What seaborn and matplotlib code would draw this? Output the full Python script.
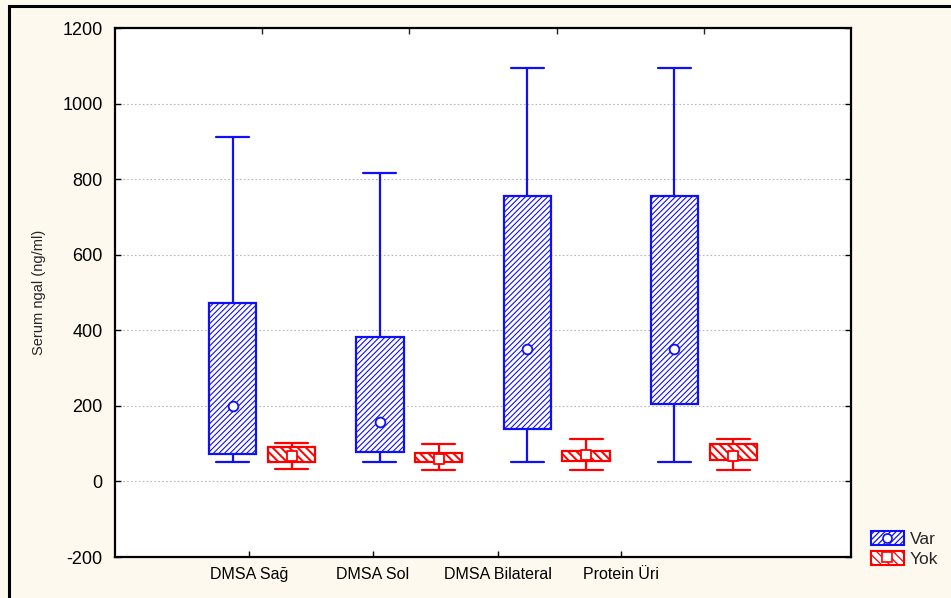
import numpy as np
import pandas as pd
import matplotlib
matplotlib.use("Agg")
import matplotlib.pyplot as plt
import seaborn as sns
from matplotlib.patches import Patch, Rectangle
from matplotlib.lines import Line2D

# values: min, q1, median, q3, max per group
categories = ["DMSA Sağ", "DMSA Sol", "DMSA Bilateral", "Protein Üri"]
groups = ["Var", "Yok"]

var_min = [51, 51, 51, 51]
var_q1 = [72, 79, 138, 205]
var_med = [200, 157, 350, 350]
var_q3 = [473, 382, 756, 756]
var_max = [911, 816, 1094, 1094]

yok_min = [32, 31, 31, 31]
yok_q1 = [52, 52, 55, 56]
yok_med = [68, 60, 69, 67]
yok_q3 = [90, 76, 81, 99]
yok_max = [102, 98, 111, 111]

y_ticks = [-200, 0, 200, 400, 600, 800, 1000, 1200]
label_pos = [-0.09, 0.75, 1.6, 2.44]

colors = {"Var": "#1010f8", "Yok": "#ff0000"}
hatches = {"Var": "//////", "Yok": "\\\\\\\\"}
hatch_lw = {"Var": 0.8, "Yok": 1.4}
markers = {"Var": "o", "Yok": "s"}

summary = {
    "Var": [var_min, var_q1, var_med, var_q3, var_max],
    "Yok": [yok_min, yok_q1, yok_med, yok_q3, yok_max],
}

rows = []
med_rows = []
for g in groups:
    stats = summary[g]
    for i, cat in enumerate(categories):
        for s in stats:
            rows.append({"cat": cat, "grp": g, "val": s[i]})
        med_rows.append({"cat": cat, "grp": g, "val": stats[2][i]})
df = pd.DataFrame(rows)
med = pd.DataFrame(med_rows)

sns.set_theme(style="white", font="Liberation Sans")
plt.rcParams["hatch.linewidth"] = 0.9
plt.rcParams["axes.unicode_minus"] = False


def style_hatch(p, g):
    p.set_hatch(hatches[g])
    p.set_edgecolor(colors[g])
    if hasattr(p, "set_hatch_linewidth"):
        p.set_hatch_linewidth(hatch_lw[g])


fig = plt.figure(figsize=(9.51, 5.98), dpi=100, facecolor="#fdf9ee")
ax = fig.add_axes([115 / 951, 1 - 557 / 598, 736 / 951, 529 / 598])
ax.set_facecolor("white")

white = {g: "white" for g in groups}
for g in groups:
    n_patches = len(ax.patches)
    n_lines = len(ax.lines)
    sns.boxplot(data=df[df.grp == g], x="cat", y="val", hue="grp",
                order=categories, hue_order=groups, palette=white,
                saturation=1, dodge=True, width=0.8, gap=0.2,
                whis=(0, 100), linecolor=colors[g], linewidth=1.6,
                medianprops={"visible": False}, legend=False, ax=ax)
    for p in ax.patches[n_patches:]:
        style_hatch(p, g)
        p.set_zorder(2)
    # widen the whisker caps a bit
    for ln in ax.lines[n_lines:]:
        xd, yd = np.asarray(ln.get_xdata(), float), np.asarray(ln.get_ydata(), float)
        if len(xd) == 2 and yd[0] == yd[1] and xd[0] != xd[1]:
            c = xd.mean()
            ln.set_xdata(c + (xd - c) * 1.4)

    sns.stripplot(data=med[med.grp == g], x="cat", y="val", hue="grp",
                  order=categories, hue_order=groups, palette=white,
                  dodge=True, jitter=False, marker=markers[g], size=7,
                  edgecolor=colors[g], linewidth=1.3, legend=False,
                  zorder=5, ax=ax)

ax.set_xlim(-1, 4)
ax.set_ylim(-200, 1200)
ax.set_yticks(y_ticks)
ax.set_xticks(label_pos)
ax.set_xticklabels(categories, fontsize=11.5)
ax.tick_params(axis="y", labelsize=13, direction="in", length=4, width=1,
               pad=9, right=True, left=True, colors="black")
ax.tick_params(axis="x", direction="in", length=4, width=1, pad=7,
               bottom=True, colors="black")
top = ax.secondary_xaxis("top")
top.set_xticks(range(len(categories)))
top.set_xticklabels([])
top.tick_params(direction="in", length=4, width=1)
top.spines["top"].set_visible(False)

ax.yaxis.grid(True, linestyle=(0, (1.5, 2)), color="#b8b8b8", linewidth=0.8)
ax.set_axisbelow(True)
for s in ax.spines.values():
    s.set_color("black")
    s.set_linewidth(1.6)

ax.set_xlabel("")
ax.set_ylabel("Serum ngal (ng/ml)", fontsize=10.5)
ax.yaxis.set_label_coords(-(115 - 46) / 736, 0.5)

# figure frame
fig.patches.append(Rectangle((9 / 951, -0.1), 1.2, 1.1 - 6 / 598,
                             transform=fig.transFigure, fill=False,
                             edgecolor="black", linewidth=2.2))

handles = []
for g in groups:
    box = Patch(facecolor="white", linewidth=1.5)
    style_hatch(box, g)
    mk = Line2D([], [], linestyle="", marker=markers[g], markersize=6.5,
                markerfacecolor="white", markeredgecolor=colors[g], markeredgewidth=1.2)
    handles.append((box, mk))
fig.legend(handles, groups, loc="upper left", bbox_to_anchor=(871 / 951, 1 - 531 / 598),
           frameon=False, fontsize=12.5, handlelength=1.9, handleheight=0.9,
           handletextpad=0.35, labelspacing=0.2, borderaxespad=0, borderpad=0)

fig.savefig("out.png", dpi=100, facecolor=fig.get_facecolor())
